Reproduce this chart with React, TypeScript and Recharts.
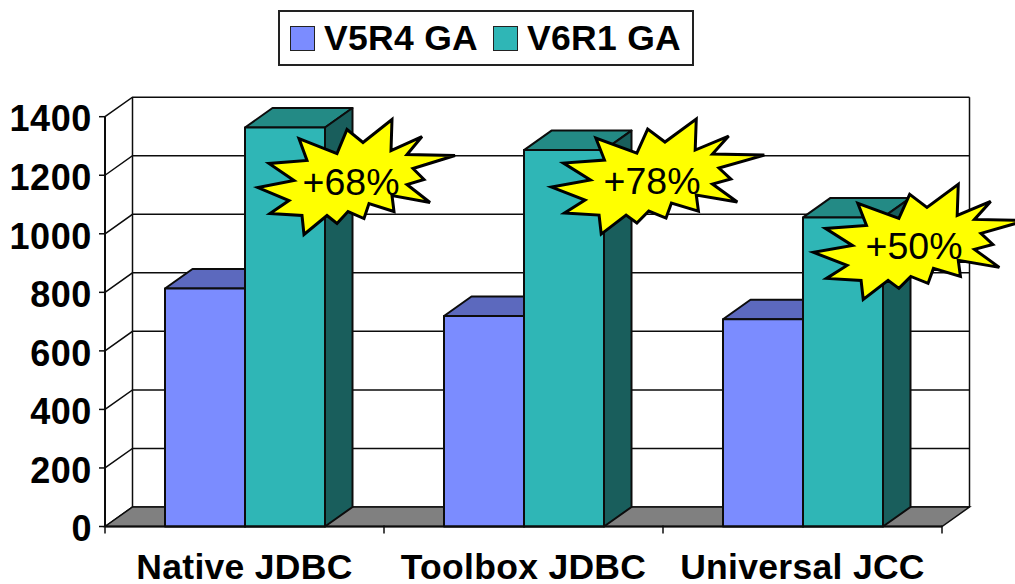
import { BarChart, Bar, XAxis, YAxis, CartesianGrid, Legend, LabelList, usePlotArea } from "recharts";

const categories = ["Native JDBC", "Toolbox JDBC", "Universal JCC"];
const v5r4 = [813, 719, 708];
const v6r1 = [1363, 1286, 1056];
const gains = ["+68%", "+78%", "+50%"];
const yTicks = [0, 200, 400, 600, 800, 1000, 1200, 1400];

const FONT = '"Liberation Sans", Arial, sans-serif';
const DX = 27.5;
const DY = 19.5;
const INK = "#0c0c0c";

const chartData = categories.map((name, i) => ({
  name,
  "V5R4 GA": v5r4[i],
  "V6R1 GA": v6r1[i],
}));

// burst outline, relative to the centre of its text
const burstPoints = [
  [41, -61], [40, -30], [71, -44], [56, -26], [104, -25], [62, -12], [73, -1], [56, 4],
  [79, 22], [41, 15], [43, 31], [18, 23], [13, 38], [-3, 31], [-14, 43], [-24, 35],
  [-47, 54], [-49, 35], [-81, 33], [-62, 20], [-93, 7], [-57, 0], [-82, -17], [-44, -20],
  [-52, -42], [-14, -27], [-4, -51], [12, -38],
];
// where each burst sits, from the top centre of its bar, and how wide it is stretched
const burstOffsets = [
  [66, 53, 1],
  [88, 30, 1.08],
  [71, 28, 1.08],
];

function Bar3D(props: any) {
  const { x, y, width, height, front, top, side } = props;
  const r = x + width;
  const b = y + height;
  return (
    <g stroke={INK} strokeWidth={2} strokeLinejoin="round">
      <polygon points={`${x},${y} ${x + DX},${y - DY} ${r + DX},${y - DY} ${r},${y}`} fill={top} />
      <polygon points={`${r},${y} ${r + DX},${y - DY} ${r + DX},${b - DY} ${r},${b}`} fill={side} />
      <rect x={x} y={y} width={width} height={height} fill={front} />
    </g>
  );
}

function Backdrop() {
  const plot = usePlotArea();
  if (!plot) return null;
  const { x, y, width, height } = plot;
  const r = x + width;
  const b = y + height;
  return (
    <g>
      <polygon points={`${x},${b} ${x + DX},${b - DY} ${r + DX},${b - DY} ${r},${b}`} fill="#808080" stroke={INK} strokeWidth={1.5} />
      <line x1={x + DX} y1={y - DY} x2={x + DX} y2={b - DY} stroke={INK} strokeWidth={1.5} />
      <line x1={r + DX} y1={y - DY} x2={r + DX} y2={b - DY} stroke={INK} strokeWidth={1.5} />
    </g>
  );
}

function gridLine(props: any) {
  const { x1, x2, y1 } = props;
  return (
    <polyline
      key={`grid-${y1}`}
      points={`${x1},${y1} ${x1 + DX},${y1 - DY} ${x2 + DX},${y1 - DY}`}
      fill="none"
      stroke={INK}
      strokeWidth={1.5}
    />
  );
}

function CategoryTick(props: any) {
  const { x, y, payload, index } = props;
  const half = 139.5;
  return (
    <g>
      {index === 0 && <line x1={x - half} y1={y - 9} x2={x - half} y2={y - 1} stroke={INK} strokeWidth={1.5} />}
      <line x1={x + half} y1={y - 9} x2={x + half} y2={y - 1} stroke={INK} strokeWidth={1.5} />
      <text x={x} y={579} textAnchor="middle" fontFamily={FONT} fontSize={35.5} fontWeight="bold" letterSpacing={0.3} fill="#000">
        {payload.value}
      </text>
    </g>
  );
}

function Burst(props: any) {
  const { x, y, width, index } = props;
  const [ox, oy, sx] = burstOffsets[index];
  const cx = x + width / 2 + ox;
  const cy = y + oy;
  const points = burstPoints.map(([px, py]) => `${cx + px * sx},${cy + py}`).join(" ");
  return (
    <g>
      <polygon points={points} fill="#ffff00" stroke="#000" strokeWidth={3} strokeLinejoin="miter" />
      <text x={cx} y={cy + 14} textAnchor="middle" fontFamily={FONT} fontSize={37.5} fill="#000">
        {gains[index]}
      </text>
    </g>
  );
}

function LegendBox({ payload }: any) {
  return (
    <div
      style={{
        boxSizing: "border-box",
        width: 416,
        height: 56,
        border: "2px solid #222",
        background: "#fff",
        display: "flex",
        alignItems: "center",
        paddingLeft: 10,
        fontFamily: FONT,
        fontSize: 35.5,
        fontWeight: "bold",
        color: "#000",
      }}
    >
      {(payload || []).map((item: any, i: number) => (
        <div key={item.value} style={{ display: "flex", alignItems: "center", marginRight: i === 0 ? 15 : 0 }}>
          <span style={{ boxSizing: "border-box", width: 25, height: 25, background: item.color, border: "1.5px solid #222", marginRight: 9 }} />
          <span style={{ letterSpacing: 0.3 }}>{item.value}</span>
        </div>
      ))}
    </div>
  );
}

export default function App() {
  return (
    <div style={{ position: "absolute", left: 0, top: 0, width: 1015, height: 584, background: "#fff" }}>
      <BarChart
        width={1015}
        height={584}
        data={chartData}
        margin={{ top: 116.7, right: 73, bottom: 0, left: 0 }}
        barSize={80}
        barGap={0}
      >
        <Backdrop />
        <CartesianGrid horizontal={gridLine} vertical={false} />
        <XAxis dataKey="name" height={57.5} interval={0} tick={<CategoryTick />} tickLine={false} axisLine={{ stroke: INK, strokeWidth: 2 }} />
        <YAxis
          width={105}
          domain={[0, 1400]}
          ticks={yTicks}
          interval={0}
          tickSize={6}
          tickMargin={7}
          axisLine={{ stroke: INK, strokeWidth: 2 }}
          tickLine={{ stroke: INK, strokeWidth: 1.5 }}
          tick={{ fontFamily: FONT, fontSize: 36, fontWeight: "bold", fill: "#000", letterSpacing: 0.6, dy: 2 }}
        />
        <Legend
          layout="horizontal"
          verticalAlign="middle"
          align="center"
          wrapperStyle={{ left: 278, top: 10, width: 416 }}
          content={<LegendBox />}
        />
        <Bar
          dataKey="V5R4 GA"
          fill="#7b8cff"
          isAnimationActive={false}
          shape={<Bar3D front="#7b8cff" top="#5c69be" side="#3e4780" />}
        />
        <Bar
          dataKey="V6R1 GA"
          fill="#2fb6b6"
          isAnimationActive={false}
          shape={<Bar3D front="#2fb6b6" top="#238a85" side="#195e5c" />}
        >
          <LabelList content={<Burst />} />
        </Bar>
      </BarChart>
    </div>
  );
}
